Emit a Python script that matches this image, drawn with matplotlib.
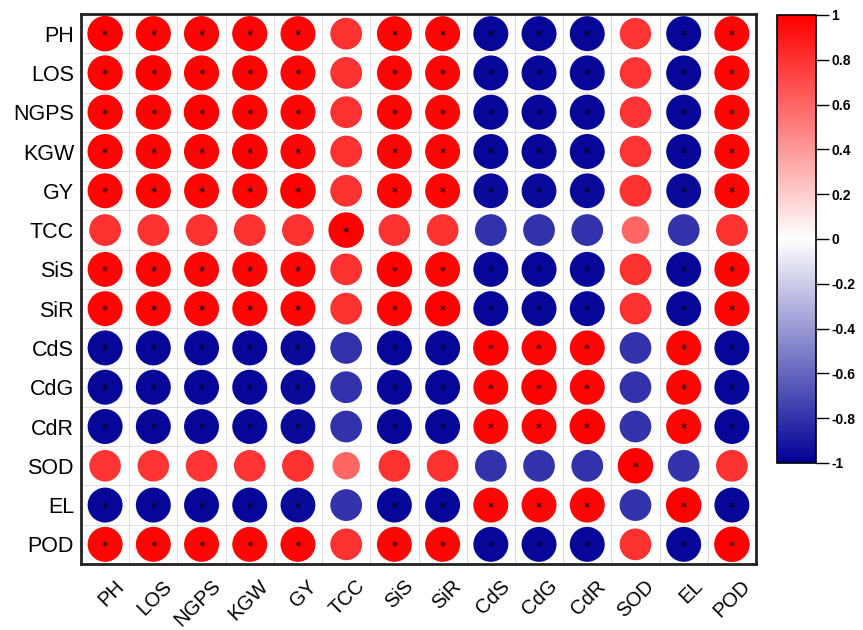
import numpy as np
import matplotlib
matplotlib.use("Agg")
import matplotlib.pyplot as plt
import matplotlib.transforms as mtransforms
from matplotlib.colors import LinearSegmentedColormap, Normalize
from matplotlib.cm import ScalarMappable

labels = ["PH", "LOS", "NGPS", "KGW", "GY", "TCC", "SiS", "SiR",
          "CdS", "CdG", "CdR", "SOD", "EL", "POD"]

# correlation matrix (rows/cols in label order)
corr = [
    [1.00, 0.98, 0.98, 0.98, 0.97, 0.80, 0.97, 0.97, -0.97, -0.97, -0.97, 0.79, -0.97, 0.97],
    [0.98, 1.00, 0.98, 0.98, 0.97, 0.80, 0.97, 0.97, -0.97, -0.97, -0.97, 0.79, -0.97, 0.97],
    [0.98, 0.98, 1.00, 0.98, 0.97, 0.80, 0.97, 0.97, -0.97, -0.97, -0.97, 0.79, -0.97, 0.97],
    [0.98, 0.98, 0.98, 1.00, 0.97, 0.80, 0.97, 0.97, -0.97, -0.97, -0.97, 0.79, -0.97, 0.97],
    [0.97, 0.97, 0.97, 0.97, 1.00, 0.80, 0.97, 0.97, -0.96, -0.96, -0.96, 0.80, -0.96, 0.97],
    [0.80, 0.80, 0.80, 0.80, 0.80, 1.00, 0.80, 0.80, -0.80, -0.80, -0.80, 0.60, -0.80, 0.80],
    [0.97, 0.97, 0.97, 0.97, 0.97, 0.80, 1.00, 0.97, -0.97, -0.97, -0.97, 0.80, -0.97, 0.97],
    [0.97, 0.97, 0.97, 0.97, 0.97, 0.80, 0.97, 1.00, -0.97, -0.97, -0.97, 0.80, -0.97, 0.97],
    [-0.97, -0.97, -0.97, -0.97, -0.96, -0.80, -0.97, -0.97, 1.00, 0.97, 0.97, -0.80, 0.97, -0.97],
    [-0.97, -0.97, -0.97, -0.97, -0.96, -0.80, -0.97, -0.97, 0.97, 1.00, 0.97, -0.80, 0.97, -0.97],
    [-0.97, -0.97, -0.97, -0.97, -0.96, -0.80, -0.97, -0.97, 0.97, 0.97, 1.00, -0.80, 0.97, -0.97],
    [0.79, 0.79, 0.79, 0.79, 0.80, 0.60, 0.80, 0.80, -0.80, -0.80, -0.80, 1.00, -0.80, 0.80],
    [-0.97, -0.97, -0.97, -0.97, -0.96, -0.80, -0.97, -0.97, 0.97, 0.97, 0.97, -0.80, 1.00, -0.97],
    [0.97, 0.97, 0.97, 0.97, 0.97, 0.80, 0.97, 0.97, -0.97, -0.97, -0.97, 0.80, -0.97, 1.00],
]

# variables whose mutual correlations are significant (marked with *)
sig_groups = ["PH", "LOS", "NGPS", "KGW", "GY", "SiS", "SiR", "POD",
              "CdS", "CdG", "CdR", "EL"]

cbar_ticks = [-1, -0.8, -0.6, -0.4, -0.2, 0, 0.2, 0.4, 0.6, 0.8, 1]
cbar_labels = ["-1", "-0.8", "-0.6", "-0.4", "-0.2", "0", "0.2", "0.4", "0.6", "0.8", "1"]

C = np.array(corr)
n = len(labels)

cmap = LinearSegmentedColormap.from_list("bwr_custom", ["#000096", "#ffffff", "#ff0000"])
norm = Normalize(-1, 1)

fig = plt.figure(figsize=(8.63, 6.30), dpi=100)
W, H = 863, 630
ax = fig.add_axes([81 / W, (H - 564) / H, 675 / W, 550 / H])

xx, yy = np.meshgrid(np.arange(n), np.arange(n))
vals = C.ravel()
smax = (35.5 * 0.72) ** 2
ax.scatter(xx.ravel(), yy.ravel(), s=np.abs(vals) * smax, c=vals, cmap=cmap, norm=norm,
           edgecolors="none", zorder=3)

for i in range(n):
    for j in range(n):
        star = (i == j) or (labels[i] in sig_groups and labels[j] in sig_groups)
        if star:
            ax.text(j, i + 0.05, "*", ha="center", va="center", fontsize=9, color="black", zorder=4)

ax.set_xlim(-0.5, n - 0.5)
ax.set_ylim(n - 0.5, -0.5)
ax.set_xticks(np.arange(n))
ax.set_yticks(np.arange(n))
ax.set_xticklabels(labels, rotation=45, ha="right", va="top", rotation_mode="anchor",
                   fontsize=14.5, family="Liberation Sans")
ax.set_yticklabels(labels, fontsize=15.5, family="Liberation Sans")
ax.set_xticks(np.arange(-0.5, n, 1), minor=True)
ax.set_yticks(np.arange(-0.5, n, 1), minor=True)
ax.grid(which="minor", color="#dcdcdc", lw=0.7, zorder=0)
ax.tick_params(which="both", length=0)
ax.tick_params(axis="x", pad=9)
ax.tick_params(axis="y", pad=5)
offset = mtransforms.ScaledTranslation(9 / 100, 0, fig.dpi_scale_trans)
for lab in ax.get_xticklabels():
    lab.set_transform(lab.get_transform() + offset)
for sp in ax.spines.values():
    sp.set_linewidth(2)
    sp.set_color("#222222")

cax = fig.add_axes([777 / W, (H - 463) / H, 39 / W, 448 / H])
sm = ScalarMappable(norm=norm, cmap=cmap)
cb = fig.colorbar(sm, cax=cax, ticks=cbar_ticks)
cb.ax.set_yticklabels(cbar_labels, fontweight="bold", fontsize=10, family="Liberation Sans")
cb.ax.tick_params(length=9, width=1, direction="out", pad=2)
cb.outline.set_linewidth(1.2)

fig.savefig("out.png", dpi=100)
